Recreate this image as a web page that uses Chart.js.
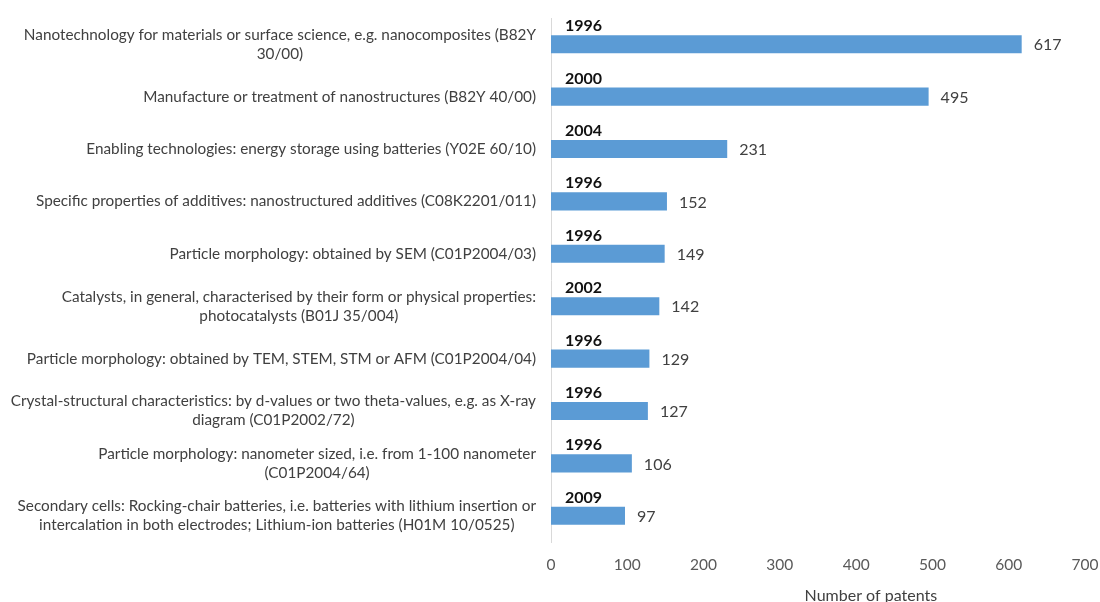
<!DOCTYPE html>
<html>
<head>
<meta charset="utf-8">
<script src="https://cdn.jsdelivr.net/npm/chart.js@4"></script>
<style>
  html, body { margin: 0; padding: 0; background: #fff; }
  #wrap { width: 1100px; height: 602px; }
</style>
</head>
<body>
<div id="wrap"><canvas id="patentChart"></canvas></div>
<script>
// categories (multi-line, as in the source figure)
const categories = [
    ['Nanotechnology for materials or surface science, e.g. nanocomposites (B82Y', '30/00)'],
    ['Manufacture or treatment of nanostructures (B82Y 40/00)'],
    ['Enabling technologies: energy storage using batteries (Y02E 60/10)'],
    ['Specific properties of additives: nanostructured additives (C08K2201/011)'],
    ['Particle morphology: obtained by SEM (C01P2004/03)'],
    ['Catalysts, in general, characterised by their form or physical properties:', 'photocatalysts (B01J 35/004)'],
    ['Particle morphology: obtained by TEM, STEM, STM or AFM (C01P2004/04)'],
    ['Crystal-structural characteristics: by d-values or two theta-values, e.g. as X-ray', 'diagram (C01P2002/72)'],
    ['Particle morphology: nanometer sized, i.e. from 1-100 nanometer', '(C01P2004/64)'],
    ['Secondary cells: Rocking-chair batteries, i.e. batteries with lithium insertion or', 'intercalation in both electrodes; Lithium-ion batteries (H01M 10/0525)']
];
const patents = [617, 495, 231, 152, 149, 142, 129, 127, 106, 97];
const firstYears = ['1996', '2000', '2004', '1996', '1996', '2002', '1996', '1996', '1996', '2009'];
const xTicks = [0, 100, 200, 300, 400, 500, 600, 700];
const xTitle = 'Number of patents';

const FONT = 'Lato, "Open Sans", sans-serif';

const labelPlugin = {
    id: 'labelPlugin',
    afterDatasetsDraw(chart) {
        const ctx = chart.ctx;
        const meta = chart.getDatasetMeta(0);
        const yScale = chart.scales.y;
        const area = chart.chartArea;
        ctx.save();

        // category labels: block right-aligned, lines centred on each other
        ctx.font = '15.3px ' + FONT;
        ctx.fillStyle = '#404040';
        ctx.textAlign = 'center';
        ctx.textBaseline = 'middle';
        const lineH = 19;
        categories.forEach((lines, i) => {
            const cy = yScale.getPixelForTick(i);
            const maxW = Math.max(...lines.map(l => ctx.measureText(l).width));
            const cx = area.left - 15 - maxW / 2;
            const y0 = cy - (lines.length - 1) * lineH / 2;
            lines.forEach((l, k) => ctx.fillText(l, cx, y0 + k * lineH));
        });

        meta.data.forEach((bar, i) => {
            const top = bar.y - bar.height / 2;
            // year above bar
            ctx.font = 'bold 16px ' + FONT;
            ctx.fillStyle = '#111';
            ctx.textAlign = 'left';
            ctx.textBaseline = 'alphabetic';
            ctx.fillText(firstYears[i], bar.base + 14, top - 4);
            // value at bar end
            ctx.font = '16px ' + FONT;
            ctx.fillStyle = '#404040';
            ctx.textBaseline = 'middle';
            ctx.fillText(String(patents[i]), bar.x + 12, bar.y + 1);
        });

        // axis title
        ctx.font = '16px ' + FONT;
        ctx.fillStyle = '#404040';
        ctx.textAlign = 'center';
        ctx.textBaseline = 'alphabetic';
        ctx.fillText(xTitle, area.left + (area.right - area.left) * 0.599, 601);
        ctx.restore();
    }
};

new Chart(document.getElementById('patentChart'), {
    type: 'bar',
    data: {
        labels: categories.map(c => c.join(' ')),
        datasets: [{
            data: patents,
            backgroundColor: '#5B9BD5',
            borderWidth: 0,
            barPercentage: 0.69,
            categoryPercentage: 0.5
        }]
    },
    options: {
        indexAxis: 'y',
        responsive: true,
        maintainAspectRatio: false,
        animation: false,
        layout: { padding: { top: 18, right: 15, left: 0, bottom: 0 } },
        plugins: {
            legend: { display: false },
            tooltip: { enabled: false }
        },
        scales: {
            x: {
                min: 0,
                max: 700,
                afterBuildTicks: scale => { scale.ticks = xTicks.map(v => ({ value: v })); },
                afterFit: scale => {
                    scale.height = 60;
                    scale.paddingLeft = 0;
                    scale.paddingRight = 0;
                },
                grid: { display: false },
                border: { display: false },
                ticks: {
                    color: '#595959',
                    font: { family: FONT, size: 15.5 },
                    padding: 6
                }
            },
            y: {
                afterFit: scale => { scale.width = 551; },
                grid: { display: false },
                border: { display: true, color: '#D9D9D9', width: 1 },
                ticks: { display: false }
            }
        }
    },
    plugins: [labelPlugin]
});
</script>
</body>
</html>
